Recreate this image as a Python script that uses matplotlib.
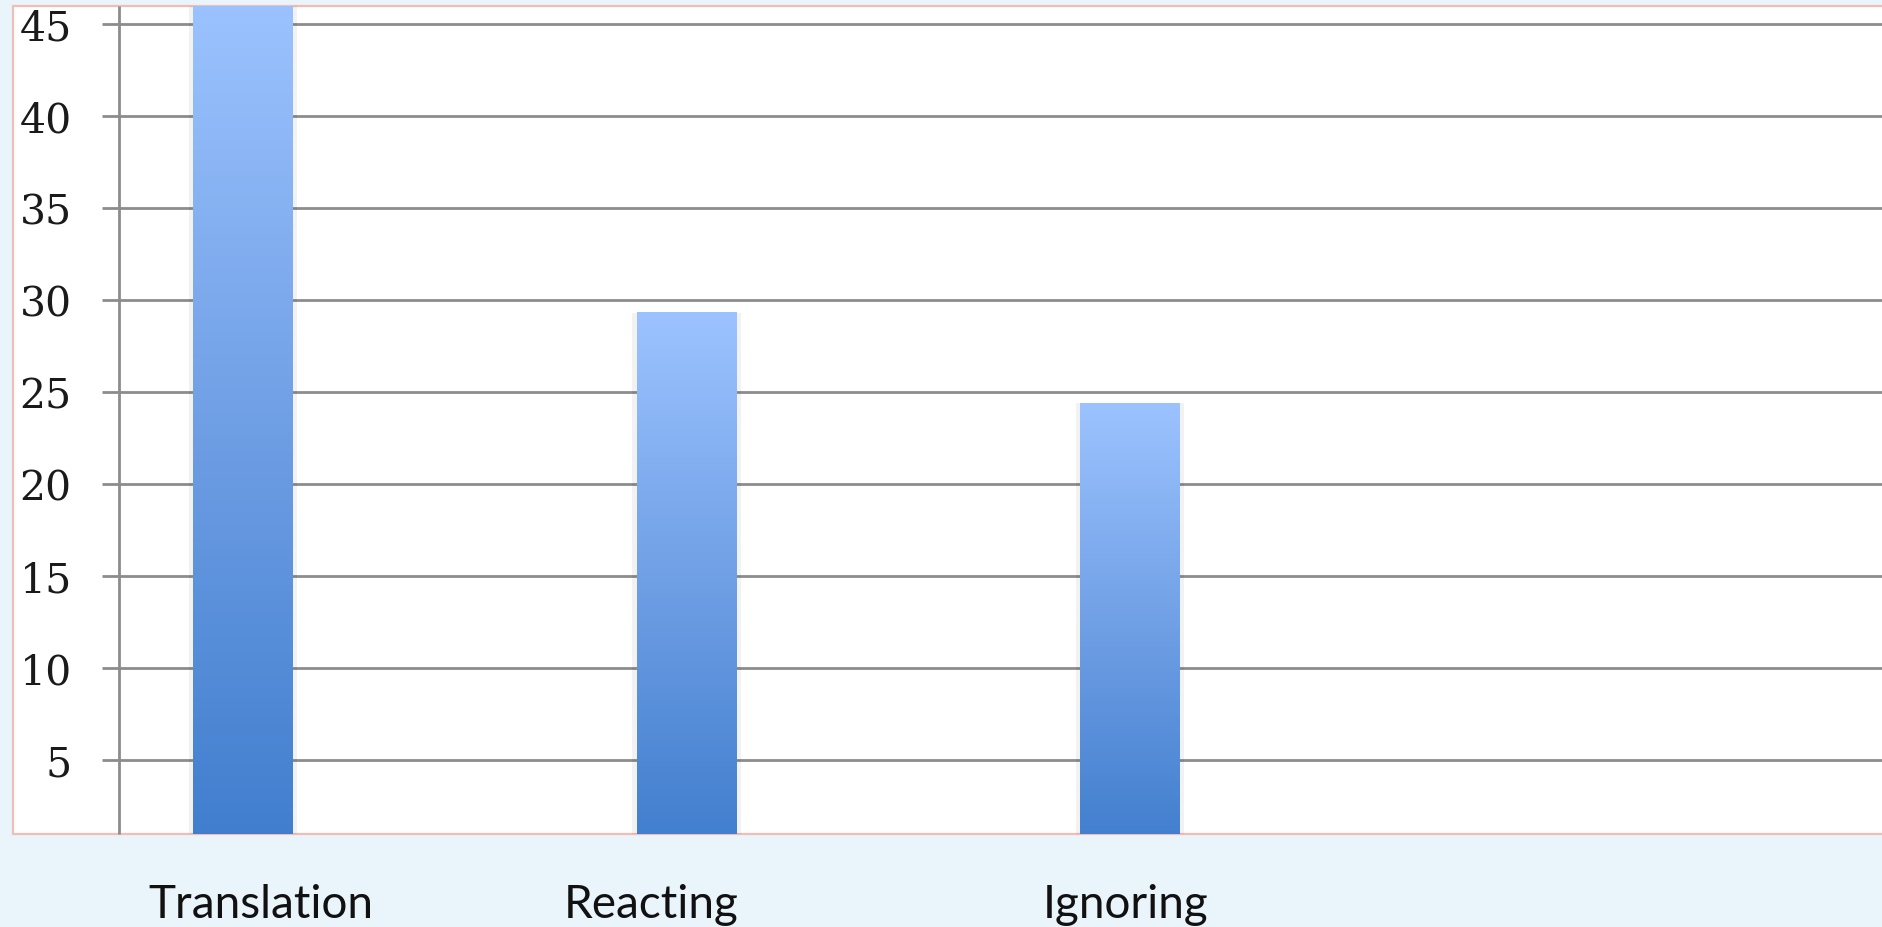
import matplotlib.pyplot as plt
import matplotlib.transforms as mtransforms
import numpy as np
from matplotlib.patches import Rectangle
from matplotlib.colors import LinearSegmentedColormap

categories = ["Translation", "Reacting", "Ignoring"]
values = [46.5, 29.3, 24.4]
yticks = [5, 10, 15, 20, 25, 30, 35, 40, 45]
label_nudge = [0.04, -0.08, -0.01]

bg = "#EAF4FB"
grid_col = "#8C8C8C"
pink = "#F2BDB5"

fig = plt.figure(figsize=(18.83, 9.28), dpi=100, facecolor=bg)

# white panel behind the chart
fig.patches.append(Rectangle((13 / 1883, 93 / 928), 1.1, 828 / 928, transform=fig.transFigure,
                             facecolor="white", edgecolor=pink, linewidth=1.6, zorder=-5))

ax = fig.add_axes([119 / 1883, 93 / 928, 1764 / 1883, 828 / 928])
ax.set_facecolor("none")

# bar shadows, then the bars themselves with a vertical gradient
ax.bar(range(len(values)), values, width=0.245, color="black", alpha=0.05, zorder=2)
bars = ax.bar(range(len(values)), values, width=0.225, color="none", zorder=3)
cmap = LinearSegmentedColormap.from_list("barblue", ["#3F7DCD", "#6F9FE5", "#9CC3FF"])
grad = np.linspace(0, 1, 256).reshape(-1, 1)
for b in bars:
    x0, w, h = b.get_x(), b.get_width(), b.get_height()
    im = ax.imshow(grad, cmap=cmap, origin="lower", aspect="auto",
                   extent=(x0, x0 + w, 0, h), zorder=3)
    im.set_clip_path(b)
    im.set_clip_box(ax.bbox)

ax.set_xlim(-0.28, 3.698)
ax.set_ylim(0.98, 45.98)
ax.set_yticks(yticks)
ax.set_yticklabels([str(t) for t in yticks], fontfamily="DejaVu Serif", fontsize=29.5, color="#1a1a1a")
ax.tick_params(axis="y", length=12, width=2, color=grid_col, pad=22)
ax.tick_params(axis="x", length=0, labelbottom=False)
ax.yaxis.grid(True, color=grid_col, linewidth=2)
ax.set_axisbelow(True)

for s in ["top", "right", "bottom"]:
    ax.spines[s].set_visible(False)
ax.spines["left"].set_color(grid_col)
ax.spines["left"].set_linewidth(2)
ax.spines["left"].set_capstyle("butt")

trans = mtransforms.blended_transform_factory(ax.transData, fig.transFigure)
for i, name in enumerate(categories):
    ax.text(i + label_nudge[i], 0.011, name, transform=trans,
            ha="center", va="baseline", fontsize=33, fontfamily="Lato", color="#111111")

fig.savefig("out.png", dpi=100, facecolor=bg)
